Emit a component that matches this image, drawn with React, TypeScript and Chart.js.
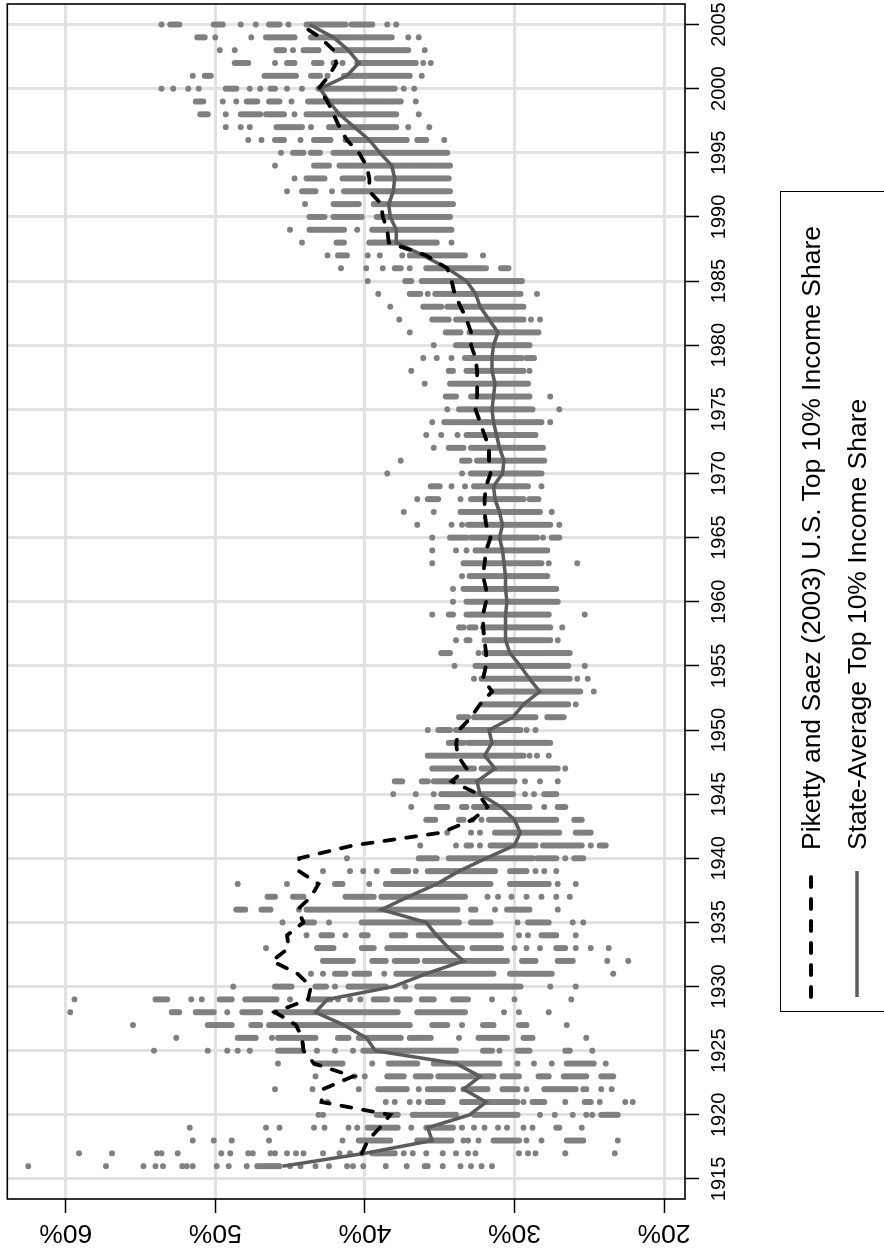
import React, { useEffect, useRef } from "react";
import { Chart, registerables } from "chart.js";

Chart.register(...registerables);

// ---------- data ----------
const years = [
  1916, 1917, 1918, 1919, 1920, 1921, 1922, 1923, 1924, 1925, 1926, 1927, 1928, 1929, 1930,
  1931, 1932, 1933, 1934, 1935, 1936, 1937, 1938, 1939, 1940, 1941, 1942, 1943, 1944, 1945,
  1946, 1947, 1948, 1949, 1950, 1951, 1952, 1953, 1954, 1955, 1956, 1957, 1958, 1959, 1960,
  1961, 1962, 1963, 1964, 1965, 1966, 1967, 1968, 1969, 1970, 1971, 1972, 1973, 1974, 1975,
  1976, 1977, 1978, 1979, 1980, 1981, 1982, 1983, 1984, 1985, 1986, 1987, 1988, 1989, 1990,
  1991, 1992, 1993, 1994, 1995, 1996, 1997, 1998, 1999, 2000, 2001, 2002, 2003, 2004, 2005,
];

const stateAverage = [
  45.5, 40.0, 35.5, 35.8, 33.0, 31.9, 33.4, 32.3, 33.9, 39.3, 39.9, 41.4, 43.3, 42.5, 38.1,
  35.9, 33.4, 34.4, 35.2, 35.9, 38.9, 37.1, 35.2, 33.7, 31.9, 30.0, 29.6, 30.0, 30.9, 32.3,
  32.5, 31.3, 32.0, 31.5, 31.7, 30.1, 29.4, 28.3, 29.0, 29.6, 30.3, 30.6, 30.6, 30.6, 30.5,
  30.6, 30.6, 30.7, 30.8, 31.0, 30.8, 31.0, 31.3, 31.4, 30.8, 30.7, 31.0, 31.2, 31.4, 31.5,
  31.4, 31.3, 31.5, 31.5, 31.4, 31.1, 31.7, 32.3, 32.6, 33.2, 34.5, 36.1, 37.9, 37.9, 38.3,
  38.4, 38.1, 38.0, 38.2, 39.0, 39.7, 40.7, 41.7, 42.4, 43.0, 41.2, 40.4, 41.1, 42.1, 43.7,
];

const pikettySaez = [
  null, 40.2, 39.8, 39.0, 38.3, 42.9, 42.8, 40.8, 43.4, 44.1, 44.2, 44.6, 46.0, 43.8, 43.6,
  44.5, 46.2, 45.1, 45.2, 44.1, 44.5, 43.6, 43.1, 44.4, 44.4, 40.8, 34.9, 32.8, 31.8, 32.4,
  34.2, 33.2, 33.8, 33.9, 33.7, 32.9, 32.3, 31.5, 32.1, 31.9, 31.9, 32.0, 32.1, 32.1, 31.9,
  31.9, 32.1, 32.0, 31.9, 31.6, 31.9, 32.0, 32.0, 31.9, 31.6, 31.7, 31.7, 32.0, 32.3, 32.6,
  32.5, 32.5, 32.5, 32.6, 32.9, 32.9, 33.2, 33.6, 34.0, 34.2, 34.5, 35.9, 38.4, 38.5, 38.8,
  38.9, 39.7, 39.7, 39.9, 40.4, 41.2, 41.7, 42.1, 42.5, 43.1, 42.4, 41.9, 42.1, 43.0, 44.3,
];

// individual state values per year: single values are dots, "hi-lo" is a run of overlapping dots
const stateSpread = [
  "62.5 57.3 54.8 54.0 53.5 52.2 51.9 51.5 49.9 49.1 47.9 47.2-45.7 45.0 44.3 43.3 42.4 41.2 40.8 40.1 38.6 37.2 36.0 35.8 34.8 33.6 32.9 32.2 31.5",
  "59.1 56.9 53.9 53.6 52.5 49.6 49.0 47.8 47.5 46.3 46.0 45.2 44.6 44.1 42.8 41.7 41.0 40.2 39.5-38.0 37.4 36.8 35.9 34.8 33.9 33.1 32.6 29.7 29.1 28.6 26.6 23.3",
  "51.5 50.1 48.9 46.4 41.5 40.4-38.3 36.5-34.2 33.4 33.1 32.4 31.4-29.7 29.2 28.2 26.5-25.4 23.1",
  "51.7 46.6 45.7 43.4 42.7 41.1 40.5 39.8-37.8 36.9 35.9-34.1 33.5 32.7 32.0 31.1 30.5 29.4 28.8 27.2-27.0 25.5",
  "43.1 42.8 39.2-37.8 36.8-33.9 32.7-29.8 28.3 27.3 26.1 25.2 24.8 24.2-23.1",
  "42.5 38.6 38.0 37.0 36.4 35.8-34.8 33.5-29.8 29.4 28.8-28.0 26.6 25.3-24.9 24.3 22.6 22.1",
  "46.0 43.5 40.4 39.1-37.2 36.4 35.8-34.1 33.4-31.8 30.8-29.8 29.2 28.0-25.9 25.4 25.2 24.2 23.5",
  "43.3 40.7 40.0 38.5-37.4 36.6-35.6 35.1-31.4 30.8-29.7 28.4-27.7 26.7-25.2 24.2-23.4",
  "45.8 43.3-41.5 39.5 38.4-36.5 35.4-31.0 29.8 28.7 27.5 26.5-24.7 23.9",
  "54.1 50.5 49.2 48.5 47.7 45.8-44.2 43.2 42.0 40.8 40.1-33.9 32.1-31.5 31.0 29.8-29.0 26.6-26.3 24.8",
  "52.6 48.5-47.3 46.2 45.8-43.3 41.8-41.1 40.4-37.6 37.0-35.6 33.7 32.4-30.5 29.4-28.8 25.2",
  "55.5 50.5-48.9 47.6-47.0 46.4-37.0 35.5-34.5 33.5 32.1-31.4 29.7-29.2 26.5",
  "59.7 52.9-52.4 51.3-50.1 49.2 48.2-47.0 46.0-37.8 36.5-33.3 30.7 29.7 27.7",
  "59.4 54.0-53.2 51.6 50.9 49.7-48.9 48.0-45.9 45.0 43.7-42.3 41.8 41.0 40.3 39.4-38.5 37.9-37.0 36.2-35.4 34.1-33.1 31.5 30.0 26.2",
  "48.8 46.0-44.9 43.3-42.6 42.0 41.1-38.6 37.3 36.5-29.6 27.6 25.9",
  "43.6 42.8 42.0-41.3 40.7-39.7 38.7 37.9-31.4 30.3-27.5 23.4",
  "42.8-40.8 39.5-38.6 38.0-36.5 36.0-30.5 29.5-28.6 27.1-26.1 23.8 22.4",
  "46.6 43.2-42.1 40.2-39.4 38.5-33.5 32.8-30.9 30.0 29.2 28.3 27.2-26.6 25.9 24.9 23.7",
  "43.9 42.9-42.2 41.3 40.2-39.8 38.2-37.3 36.4-30.9 29.7 29.1 28.2-27.2 25.9",
  "45.5 44.1-43.4 42.4 40.2-33.7 32.9-31.6 29.8 29.1-27.7 26.1 25.4",
  "48.6-48.0 46.9-46.3 44.4 43.9-33.8 32.9-32.6 31.3 30.5-29.0 27.1",
  "46.5-46.0 44.8-44.1 41.3-39.4 38.9-33.3 31.8 31.1 30.2 29.2 28.2 27.2 26.3",
  "48.5 45.2 42.0-41.5 39.7 38.6-31.6 30.3-27.7 27.1 25.9",
  "42.8 41.0 40.1 39.2 38.1-37.1 36.6 35.8-31.3 30.3-29.2 28.6 28.0 27.2",
  "41.2 36.4-35.2 34.4-28.8 28.5-27.2 26.6 26.0-25.4",
  "36.3 33.9 33.2-32.9 32.3 31.6-28.6 28.1-25.5 24.9 24.3-23.9",
  "34.5 32.9 32.3 31.3-27.0 25.9-24.9",
  "35.9-35.3 33.7-33.4 32.8 32.2 31.7-27.2 26.0-25.5",
  "36.9 35.2-34.5 33.5-33.2 32.7-29.0 28.0 27.1-26.6",
  "38.1 36.6 35.4 34.9-30.1 29.3 28.7 28.0-27.2",
  "38.0-37.5 36.2-35.8 35.4-30.0 29.3 28.3 27.1",
  "35.5-32.7 32.2-27.1 26.6",
  "35.8-34.5 34.3-29.4 29.0 28.5 27.7",
  "34.4-33.4 33.1-27.6",
  "35.8 35.1-34.3 33.9-29.6 29.2 28.6",
  "33.7-33.1 32.7-28.6 27.8-26.7",
  "32.2-26.4 25.9",
  "31.5-25.6 24.7",
  "32.7 32.2-26.3 25.8 25.1",
  "34.0 32.6-26.4 25.3",
  "34.9-34.3 32.4 32.0-26.3",
  "33.9 33.2-33.0 32.0-27.6 27.1",
  "33.7-33.4 33.0-32.6 32.1-27.6 26.8",
  "35.5 34.4-34.1 33.2-27.7 25.3",
  "34.1 33.2-27.1",
  "34.1 33.4-27.2",
  "33.5 33.0-27.8",
  "35.5 33.4-28.2 27.7 25.8",
  "35.5 33.9 33.2 32.6-27.8",
  "35.5 34.3-33.2 32.9-28.5 28.1 27.5-27.0",
  "36.5 34.2 33.5 33.1-27.6 27.0",
  "37.4 35.4 33.6-28.3 27.5",
  "36.5 35.8-35.1 33.6 32.9-29.4 29.0-28.4",
  "35.6-35.0 34.2 33.3 32.7-29.1 28.2",
  "38.5 33.5 32.9-28.2",
  "37.6 33.5-33.0 32.5-28.0",
  "35.4 34.4-33.4 32.9-28.1",
  "35.9 34.9 33.8 33.2-28.6",
  "35.5 34.7-28.2 27.6",
  "34.5 33.7-28.8 27.0",
  "34.6-33.9 32.9-29.0 27.6",
  "36.0 34.3-29.1",
  "36.9 34.4-34.1 33.2-29.4 29.0",
  "36.1 35.2 34.2 33.3-29.5 29.2-28.7",
  "35.4 33.9-29.0",
  "37.0 34.6-33.6 33.0-28.4",
  "37.7 35.5-34.4 33.9-29.4 28.9 28.3",
  "38.3 36.1-34.9 34.5-29.4",
  "39.1 37.0-36.3 35.8 35.3-29.6 28.5",
  "39.8 37.3-36.9 36.2-29.5",
  "41.6 39.9 38.8 38.0-37.6 37.0 35.9-31.9 30.9-30.4",
  "42.5 41.8-41.2 39.8 39.0 37.5 37.0-33.3 32.1",
  "44.2 41.9-41.4 39.7-35.2 34.2",
  "45.0 43.7-41.4 40.5 39.5-34.2",
  "43.7-42.7 42.1-40.2 39.2-34.3",
  "44.0 42.1-40.4 39.4-34.1",
  "45.2 44.2-43.3 42.2 41.4-34.3",
  "44.7 43.9-42.7 41.5-40.1 39.2-34.4",
  "46.0 43.4-42.4 41.7-34.3",
  "45.6 44.8-44.1 43.6-43.0 42.1-34.5",
  "47.8 46.9 46.0-45.4 44.3 43.4-42.3 41.3-37.2 36.5-35.9 34.7",
  "49.3 48.3 47.7 45.9-44.2 43.6 42.4-37.9 37.1 35.7",
  "51.0-50.5 49.3 48.3-47.0 46.6-45.4 44.7 43.9-37.9 36.4",
  "51.3-50.8 49.5 48.6 47.9-47.2 46.4-45.7 44.9 43.8-37.6 36.6",
  "53.6 52.8 51.8 51.1 49.3-48.6 47.7 47.0 46.3-46.0 45.2 44.2 43.1-38.0 37.4 36.7",
  "51.5 50.7-50.3 46.7-44.6 43.6-43.0 42.5 41.4-37.0 36.2",
  "48.7-47.8 46.0 45.2-44.7 43.4-42.9 42.1 41.5 40.5-36.6 36.1 35.6",
  "49.7 48.7 45.9-45.4 44.8 44.1-43.1 42.0-37.1 36.0",
  "51.2-50.7 50.0 47.6 46.6-44.7 43.6-38.2 37.1 36.4",
  "53.6 53.0-52.4 50.1-49.5 48.3 47.3 46.4-45.7 45.1 43.9-41.3 40.9-39.5 38.5 37.9",
];

const yearTicks = [1915, 1920, 1925, 1930, 1935, 1940, 1945, 1950, 1955, 1960, 1965, 1970, 1975, 1980, 1985, 1990, 1995, 2000, 2005];
const pctTicks = [20, 30, 40, 50, 60];
const legendLabels = [
  "Piketty and Saez (2003) U.S. Top 10% Income Share",
  "State-Average Top 10% Income Share",
];

// ---------- layout (unrotated frame, rotated -90deg by CSS) ----------
const W = 1257;
const H = 884;
const FONT = '"Liberation Sans", Arial, Helvetica, sans-serif';
const DOT = "#808080";
const AVG = "#5c5c5c";
const GRID = "#e2e2e2";
const DOT_R = 3.0;
const DASH = [10, 12];

export default function App() {
  const ref = useRef<HTMLCanvasElement | null>(null);

  useEffect(() => {
    const dotPoints: { x: number; y: number }[] = [];
    const runPoints: { x: number; y: number | null }[] = [];
    stateSpread.forEach((s, i) => {
      const yr = years[i];
      s.trim().split(/\s+/).forEach((tok) => {
        if (tok.includes("-")) {
          const [a, b] = tok.split("-").map(Number);
          runPoints.push({ x: yr, y: a }, { x: yr, y: b }, { x: yr, y: null });
        } else {
          dotPoints.push({ x: yr, y: Number(tok) });
        }
      });
    });
    const avgPoints = years.map((x, i) => ({ x, y: stateAverage[i] }));
    const psPoints = years.map((x, i) => ({ x, y: pikettySaez[i] }));

    const axisLabels = {
      id: "axisLabels",
      afterDraw(chart: any) {
        const { ctx, chartArea, scales } = chart;
        ctx.save();
        // frame
        ctx.strokeStyle = "#000";
        ctx.lineWidth = 1.6;
        ctx.strokeRect(chartArea.left, chartArea.top, chartArea.right - chartArea.left, chartArea.bottom - chartArea.top);
        ctx.fillStyle = "#000";
        // year labels
        ctx.font = `20px ${FONT}`;
        ctx.textAlign = "center";
        ctx.textBaseline = "alphabetic";
        yearTicks.forEach((v) => {
          ctx.fillText(String(v), scales.x.getPixelForValue(v), chartArea.bottom + 40);
        });
        // percent labels (parallel to axis)
        ctx.font = `26.5px ${FONT}`;
        pctTicks.forEach((v) => {
          const y = scales.y.getPixelForValue(v);
          ctx.save();
          ctx.translate(chartArea.left - 26, y);
          ctx.rotate(-Math.PI / 2);
          ctx.fillText(`${v}%`, 0, 0);
          ctx.restore();
        });
        ctx.restore();
      },
    };

    const gridOpts = {
      color: GRID,
      lineWidth: 3,
      drawTicks: true,
      tickLength: 14,
      tickColor: "#000",
      tickWidth: 1.5,
    };

    const chart = new Chart(ref.current as HTMLCanvasElement, {
      type: "scatter",
      data: {
        datasets: [
          {
            label: legendLabels[0],
            data: psPoints as any,
            showLine: true,
            borderColor: "#000",
            borderWidth: 3.8,
            borderDash: DASH,
            borderCapStyle: "round",
            pointRadius: 0,
            spanGaps: false,
            order: 0,
          },
          {
            label: legendLabels[1],
            data: avgPoints,
            showLine: true,
            borderColor: AVG,
            borderWidth: 3.5,
            pointRadius: 0,
            order: 1,
          },
          {
            label: "runs",
            data: runPoints as any,
            showLine: true,
            borderColor: DOT,
            borderWidth: DOT_R * 2,
            borderCapStyle: "round",
            pointRadius: 0,
            spanGaps: false,
            order: 2,
          },
          {
            label: "states",
            data: dotPoints,
            showLine: false,
            pointRadius: DOT_R,
            pointBackgroundColor: DOT,
            pointBorderWidth: 0,
            order: 3,
          },
        ],
      },
      options: {
        responsive: false,
        animation: false,
        events: [],
        devicePixelRatio: 1,
        layout: { padding: { left: 0, top: 7.3, right: 3.5, bottom: 0 } },
        plugins: { legend: { display: false }, tooltip: { enabled: false } },
        scales: {
          x: {
            type: "linear",
            min: 1913.44,
            max: 2006.6,
            afterBuildTicks: (s: any) => {
              s.ticks = yearTicks.map((value) => ({ value }));
            },
            afterFit: (s: any) => {
              s.height = H - 685;
              s.paddingLeft = 0;
              s.paddingRight = 0;
            },
            grid: gridOpts,
            border: { display: false },
            ticks: { display: false },
          },
          y: {
            type: "linear",
            min: 18.6,
            max: 63.9,
            afterBuildTicks: (s: any) => {
              s.ticks = pctTicks.map((value) => ({ value }));
            },
            afterFit: (s: any) => {
              s.width = 58;
              s.paddingTop = 0;
              s.paddingBottom = 0;
            },
            grid: gridOpts,
            border: { display: false },
            ticks: { display: false },
          },
        },
      } as any,
      plugins: [axisLabels],
    });
    return () => chart.destroy();
  }, []);

  const rowStyle = (center: number): React.CSSProperties => ({
    position: "absolute",
    left: 0,
    top: center - 20,
    height: 40,
    width: "100%",
  });

  return (
    <div style={{ position: "fixed", left: 0, top: 0, width: 884, height: 1257, overflow: "hidden", background: "#fff" }}>
      <div
        style={{
          position: "absolute",
          left: 0,
          top: 0,
          width: W,
          height: H,
          transformOrigin: "0 0",
          transform: `translate(0px, ${W}px) rotate(-90deg)`,
        }}
      >
        <canvas ref={ref} width={W} height={H} style={{ display: "block", width: W, height: H }} />
        <div
          style={{
            position: "absolute",
            left: 245,
            top: 780,
            width: 821,
            height: 120,
            border: "1.6px solid #000",
            boxSizing: "border-box",
            background: "#fff",
            fontFamily: FONT,
          }}
        >
          {[0, 1].map((i) => (
            <div key={i} style={rowStyle(i === 0 ? 30 : 76)}>
              <svg width={140} height={40} style={{ position: "absolute", left: 6, top: 0 }}>
                <line
                  x1={8}
                  y1={20}
                  x2={134}
                  y2={20}
                  stroke={i === 0 ? "#000" : AVG}
                  strokeWidth={i === 0 ? 3.8 : 3.5}
                  strokeDasharray={i === 0 ? DASH.join(" ") : undefined}
                  strokeLinecap={i === 0 ? "round" : "butt"}
                />
              </svg>
              <div
                style={{
                  position: "absolute",
                  left: 161,
                  top: 0,
                  height: 40,
                  lineHeight: "40px",
                  fontSize: 26.5,
                  whiteSpace: "nowrap",
                  color: "#000",
                }}
              >
                {legendLabels[i]}
              </div>
            </div>
          ))}
        </div>
      </div>
    </div>
  );
}
